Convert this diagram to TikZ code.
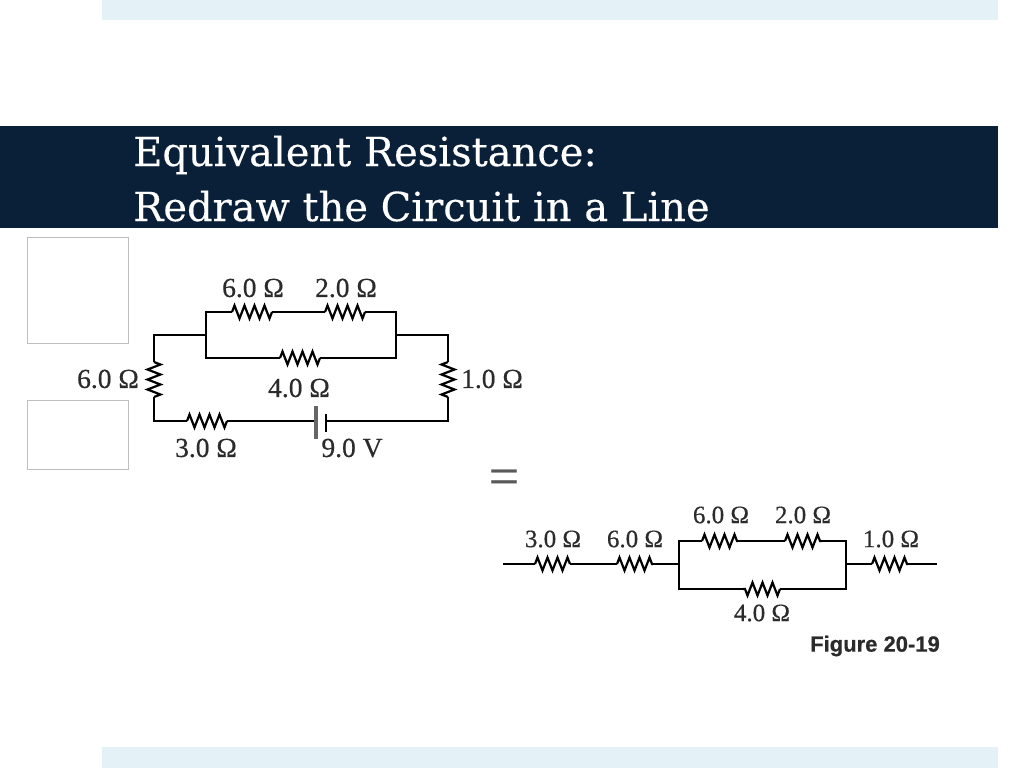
\documentclass[tikz,border=0pt]{standalone}
\usepackage{fontspec}
\setmainfont[FakeBold=0.5]{Liberation Serif}
\newfontfamily\titlefont[FakeBold=0.3]{DejaVu Serif}
\newfontfamily\figfont[FakeBold=0.6]{Liberation Sans}
\usetikzlibrary{decorations.pathmorphing}
\definecolor{band}{HTML}{E4F1F7}
\definecolor{navy}{HTML}{0A2038}
\definecolor{ink}{HTML}{2B2B2B}
\tikzset{
  wire/.style={draw=black,line width=2.6pt},
  res/.style={draw=black,line width=2.2pt,decorate,decoration={zigzag,segment length=10pt,amplitude=6.5pt}},
  val/.style={text=ink,font=\fontsize{27.5}{27.5}\selectfont,inner sep=0pt},
  valb/.style={text=ink,font=\fontsize{25}{25}\selectfont,inner sep=0pt},
  headline/.style={text=white,anchor=base west,inner sep=0pt,font=\titlefont\fontsize{40}{40}\selectfont},
  emptybox/.style={draw=black!25,line width=0.8pt}
}
\begin{document}
\begin{tikzpicture}[x=1pt,y=-1pt]
\useasboundingbox (0,0) rectangle (1024,768);
\fill[band] (102,0) rectangle (998,20);
\fill[band] (102,747) rectangle (998,768);
\fill[navy] (0,126) rectangle (998,228);
\draw[emptybox] (27.5,237.5) rectangle (128.5,343.5);
\draw[emptybox] (27.5,400.5) rectangle (128.5,469.5);

\node[headline](title1) at (133,166) {Equivalent Resistance:};
\node[headline](title2) at (133,221) {Redraw the Circuit in a Line};

% loop circuit
\coordinate (tl) at (206,312);
\coordinate (tr) at (396,312);
\coordinate (bl) at (206,358);
\coordinate (br) at (396,358);
\coordinate (jl) at (206,335);
\coordinate (jr) at (396,335);
\coordinate (ol) at (154,335);
\coordinate (or) at (448,335);
\coordinate (ul) at (154,421);
\coordinate (ur) at (448,421);
\coordinate (r1a) at (232,312);
\coordinate (r1b) at (272,312);
\coordinate (r2a) at (325,312);
\coordinate (r2b) at (365,312);
\coordinate (r3a) at (280,358);
\coordinate (r3b) at (320,358);
\coordinate (r4a) at (154,362);
\coordinate (r4b) at (154,397);
\coordinate (r5a) at (448,362);
\coordinate (r5b) at (448,397);
\coordinate (r6a) at (187,421);
\coordinate (r6b) at (227,421);
\coordinate (b1) at (316,421);
\coordinate (b2) at (326,421);
\coordinate (b1u) at (316,406);
\coordinate (b1d) at (316,439);
\coordinate (b2u) at (326,414);
\coordinate (b2d) at (326,432);

\draw[wire] (jl) -- (tl) -- (r1a);
\draw[res] (r1a) -- (r1b);
\draw[wire] (r1b) -- (r2a);
\draw[res] (r2a) -- (r2b);
\draw[wire] (r2b) -- (tr) -- (br) -- (r3b);
\draw[res] (r3b) -- (r3a);
\draw[wire] (r3a) -- (bl) -- (jl) -- (ol) -- (r4a);
\draw[res] (r4a) -- (r4b);
\draw[wire] (r4b) -- (ul) -- (r6a);
\draw[res] (r6a) -- (r6b);
\draw[wire] (r6b) -- (b1);
\draw[wire] (b2) -- (ur) -- (r5b);
\draw[res] (r5b) -- (r5a);
\draw[wire] (r5a) -- (or) -- (jr);
\draw[draw=black!60,line width=4pt] (b1u) -- (b1d);
\draw[wire] (b2u) -- (b2d);

\node[val](v1) at (253,288) {6.0 Ω};
\node[val](v2) at (346,288) {2.0 Ω};
\node[val](v3) at (299,388) {4.0 Ω};
\node[val](v4) at (108,379) {6.0 Ω};
\node[val](v5) at (492,379) {1.0 Ω};
\node[val](v6) at (206,448) {3.0 Ω};
\node[val](v7) at (352,448) {9.0 V};

\node[text=black!65,inner sep=0pt,font=\fontsize{54}{54}\selectfont](eq) at (504,482) {=};

% line circuit
\coordinate (sa) at (503,564);
\coordinate (sb) at (937,564);
\coordinate (q1a) at (535,564);
\coordinate (q1b) at (570,564);
\coordinate (q2a) at (617,564);
\coordinate (q2b) at (653,564);
\coordinate (jm) at (679,564);
\coordinate (jn) at (846,564);
\coordinate (mtl) at (679,541);
\coordinate (mtr) at (846,541);
\coordinate (mbl) at (679,589);
\coordinate (mbr) at (846,589);
\coordinate (q3a) at (702,541);
\coordinate (q3b) at (738,541);
\coordinate (q4a) at (785,541);
\coordinate (q4b) at (822,541);
\coordinate (q5a) at (743,589);
\coordinate (q5b) at (780,589);
\coordinate (q6a) at (872,564);
\coordinate (q6b) at (908,564);

\draw[wire] (sa) -- (q1a);
\draw[res] (q1a) -- (q1b);
\draw[wire] (q1b) -- (q2a);
\draw[res] (q2a) -- (q2b);
\draw[wire] (q2b) -- (jm);
\draw[wire] (jm) -- (mtl) -- (q3a);
\draw[res] (q3a) -- (q3b);
\draw[wire] (q3b) -- (q4a);
\draw[res] (q4a) -- (q4b);
\draw[wire] (q4b) -- (mtr) -- (mbr) -- (q5b);
\draw[res] (q5b) -- (q5a);
\draw[wire] (q5a) -- (mbl) -- (jm);
\draw[wire] (jn) -- (q6a);
\draw[res] (q6a) -- (q6b);
\draw[wire] (q6b) -- (sb);

\node[valb](w1) at (553,539) {3.0 Ω};
\node[valb](w2) at (635,539) {6.0 Ω};
\node[valb](w3) at (721,515) {6.0 Ω};
\node[valb](w4) at (803,515) {2.0 Ω};
\node[valb](w5) at (891,539) {1.0 Ω};
\node[valb](w6) at (762,613) {4.0 Ω};

\node[text=ink,inner sep=0pt,font=\figfont\bfseries\fontsize{22}{22}\selectfont](fig) at (875,646) {Figure 20-19};
\end{tikzpicture}
\end{document}
